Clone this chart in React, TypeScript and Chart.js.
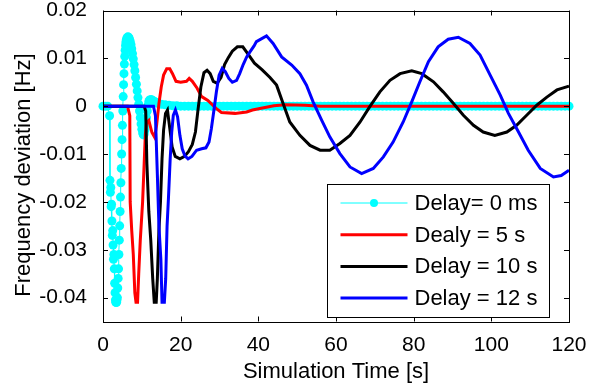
import React, { useEffect, useRef } from "react";
import { Chart, registerables } from "chart.js";

Chart.register(...registerables);

// ---------- data ----------
const xTicks = [0, 20, 40, 60, 80, 100, 120];
const xTickLabels = ["0", "20", "40", "60", "80", "100", "120"];
const yTicks = [-0.04, -0.03, -0.02, -0.01, 0, 0.01, 0.02];
const yTickLabels = ["-0.04", "-0.03", "-0.02", "-0.01", "0", "0.01", "0.02"];

const seriesNames = ["Delay= 0 ms", "Dealy = 5 s", "Delay = 10 s", "Delay = 12 s"];
const seriesColors = ["#00FFFF", "#FF0000", "#000000", "#0000FF"];

const xTitle = "Simulation Time [s]";
const yTitle = "Frequency deviation [Hz]";

// Delay = 0 ms (cyan, markers)
const cyanT = [
  0, 0.6, 1.2, 1.7,
  1.8, 1.9, 2.0, 2.1, 2.2, 2.3, 2.4, 2.5, 2.6, 2.7, 2.8, 2.9, 3.0, 3.1, 3.2, 3.3, 3.4, 3.5, 3.6, 3.7, 3.8, 3.9,
  4.0, 4.1, 4.2, 4.3, 4.4, 4.5, 4.6, 4.7, 4.8, 4.9, 5.0, 5.1, 5.2, 5.3, 5.4, 5.5, 5.6, 5.7, 5.8, 5.9,
  6.0, 6.2, 6.4, 6.6, 6.8, 7.0, 7.2, 7.4, 7.6, 7.8, 8.0, 8.2, 8.4, 8.6, 8.8, 9.0, 9.2, 9.4, 9.6, 9.8,
  10.0, 10.2, 10.4, 10.6, 10.8, 11.0, 11.2, 11.4, 11.6, 11.8, 12.0, 12.4, 12.8, 13.2, 13.6, 14, 15, 16, 17, 18, 19,
  20, 21, 22, 23, 24, 25, 26, 27, 28, 29, 30, 31, 32, 33, 34, 35, 36, 37, 38, 39,
  40, 41, 42, 43, 44, 45, 46, 47, 48, 49, 50, 51, 52, 53, 54, 55, 56, 57, 58, 59,
  60, 61, 62, 63, 64, 65, 66, 67, 68, 69, 70, 71, 72, 73, 74, 75, 76, 77, 78, 79,
  80, 81, 82, 83, 84, 85, 86, 87, 88, 89, 90, 91, 92, 93, 94, 95, 96, 97, 98, 99,
  100, 101, 102, 103, 104, 105, 106, 107, 108, 109, 110, 111, 112, 113, 114, 115, 116, 117, 118, 119, 120,
];
const cyanV = [
  0, 0, 0, -0.002,
  -0.0155, -0.018, -0.017, -0.021, -0.0205, -0.024, -0.027, -0.026, -0.029, -0.032, -0.031, -0.034, -0.037, -0.039, -0.0405, -0.041, -0.041, -0.041, -0.0405, -0.04, -0.038, -0.036,
  -0.034, -0.031, -0.028, -0.025, -0.022, -0.019, -0.016, -0.013, -0.01, -0.007, -0.004, -0.001, 0.002, 0.0045, 0.0068, 0.0088, 0.0104, 0.0117, 0.0127, 0.0134,
  0.0139, 0.0143, 0.0145, 0.0144, 0.0141, 0.0136, 0.0129, 0.012, 0.011, 0.0099, 0.0087, 0.0074, 0.006, 0.0046, 0.0032, 0.0018, 0.0004, -0.001, -0.0024, -0.0037,
  -0.0048, -0.0056, -0.006, -0.0058, -0.005, -0.0038, -0.0024, -0.001, 0.0002, 0.001, 0.0013, 0.0014, 0.0012, 0.001, 0.0008, 0.0006, 0.0004, 0.0003, 0.0002, 0.0001, 0.0001,
  0, 0, 0, 0, 0, 0, 0, 0, 0, 0, 0, 0, 0, 0, 0, 0, 0, 0, 0, 0,
  0, 0, 0, 0, 0, 0, 0, 0, 0, 0, 0, 0, 0, 0, 0, 0, 0, 0, 0, 0,
  0, 0, 0, 0, 0, 0, 0, 0, 0, 0, 0, 0, 0, 0, 0, 0, 0, 0, 0, 0,
  0, 0, 0, 0, 0, 0, 0, 0, 0, 0, 0, 0, 0, 0, 0, 0, 0, 0, 0, 0,
  0, 0, 0, 0, 0, 0, 0, 0, 0, 0, 0, 0, 0, 0, 0, 0, 0, 0, 0, 0, 0,
];

// Dealy = 5 s (red)
const redT = [
  0, 6.3, 6.6, 6.9, 7.0, 7.4, 7.8, 8.2, 8.5, 8.9, 9.2, 9.6, 10.2, 10.6, 10.9, 11.2, 11.8, 12.6, 13.3, 13.8,
  14.4, 15.0, 15.6, 16.4, 17.2, 17.9, 18.8, 20.0, 21.5, 22.2, 23.0, 24.2, 25.4, 27.0, 29.2, 30.5, 34.0, 37.0,
  38.5, 40.4, 44, 47, 52, 56, 120,
];
const redV = [
  0, 0, -0.001, -0.002, -0.02, -0.026, -0.031, -0.039, -0.041, -0.041, -0.035, -0.028, -0.02, -0.012, -0.006, -0.0035, -0.003, -0.0055, -0.0065, -0.004,
  0.0005, 0.004, 0.0065, 0.0078, 0.0078, 0.0068, 0.0052, 0.005, 0.0052, 0.0058, 0.0052, 0.0038, 0.002, 0.0012, -0.0005, -0.0013, -0.0015, -0.0012,
  -0.0008, -0.0005, 0.0001, 0.0003, 0.0002, 0, 0,
];

// Delay = 10 s (black)
const blackT = [
  0, 10.6, 11.0, 11.3, 11.8, 12.3, 12.8, 13.2, 13.7, 14.0, 14.4, 14.8, 15.2, 15.6, 16.1, 16.6, 17.1, 17.8, 18.6, 19.8,
  21.0, 22.0, 23.0, 23.8, 24.5, 25.2, 26.0, 26.8, 27.6, 28.4, 29.4, 30.4, 31.3, 32.3, 33.3, 34.6, 36.0, 37.5, 39.0, 41.0,
  43.0, 44.7, 46.4, 48.1, 50.7, 53.3, 55.9, 58.4, 61.0, 63.6, 66.2, 68.7, 71.3, 73.9, 76.5, 79.5, 82.1, 85.1, 87.6, 90.2,
  92.8, 95.4, 97.9, 100.9, 104.0, 106.5, 109.1, 111.7, 114.3, 116.9, 120,
];
const blackV = [
  0, 0, -0.001, -0.012, -0.022, -0.028, -0.036, -0.041, -0.041, -0.036, -0.026, -0.02, -0.011, -0.005, -0.0015, -0.0008, -0.004, -0.0085, -0.0105, -0.011,
  -0.0105, -0.0095, -0.008, -0.0054, -0.0005, 0.004, 0.007, 0.0075, 0.0068, 0.0052, 0.0048, 0.006, 0.0087, 0.0102, 0.0115, 0.0124, 0.0124, 0.0107, 0.009, 0.0076,
  0.006, 0.0044, 0.0005, -0.0033, -0.0061, -0.0082, -0.0092, -0.0092, -0.0078, -0.0061, -0.0033, -0.0001, 0.003, 0.0054, 0.0068, 0.0074, 0.0068, 0.0051, 0.003, 0.0006,
  -0.0019, -0.004, -0.0054, -0.0061, -0.0054, -0.004, -0.0019, 0.0002, 0.0019, 0.0034, 0.0042,
];

// Delay = 12 s (blue)
const blueT = [
  0, 13.0, 13.5, 14.0, 14.4, 14.9, 15.2, 15.8, 16.15, 16.5, 16.85, 17.3, 17.7, 18.1, 18.65, 19.2, 19.8, 20.4, 21.1, 21.9,
  22.9, 24.1, 25.4, 26.5, 27.3, 27.9, 28.5, 29.2, 29.9, 30.7, 31.5, 32.4, 33.3, 34.4, 35.2, 36.1, 37.0, 37.8, 38.9, 39.5,
  42.1, 43.8, 46.0, 48.6, 50.7, 52.4, 54.1, 56.3, 58.4, 61.0, 63.6, 66.6, 69.6, 72.2, 74.7, 77.3, 79.5, 81.6, 83.8, 86.3,
  88.9, 91.5, 94.5, 97.1, 99.7, 102.3, 104.4, 107.0, 109.5, 112.6, 116.0, 118.0, 120,
];
const blueV = [
  0, 0, -0.002, -0.0144, -0.025, -0.032, -0.041, -0.041, -0.036, -0.025, -0.0193, -0.011, -0.0054, -0.0019, -0.0008, -0.0022, -0.0061, -0.0089, -0.0104, -0.011,
  -0.0105, -0.0092, -0.0089, -0.0087, -0.0075, -0.0047, -0.0012, 0.003, 0.0065, 0.0079, 0.0072, 0.0058, 0.005, 0.0054, 0.0068, 0.0087, 0.0103, 0.0113, 0.0126, 0.0135,
  0.0147, 0.0131, 0.0103, 0.0086, 0.0068, 0.0044, 0.0009, -0.0029, -0.0064, -0.0099, -0.0127, -0.0141, -0.013, -0.0106, -0.0075, -0.0033, 0.0009, 0.0051, 0.0093, 0.0124,
  0.014, 0.0144, 0.0131, 0.0107, 0.0065, 0.0023, -0.0015, -0.0054, -0.0092, -0.013, -0.0148, -0.0145, -0.0134,
];

// ---------- helpers ----------
const FONT = '"Liberation Sans", Arial, Helvetica, sans-serif';
const toXY = (t: number[], v: number[]) => t.map((x, i) => ({ x, y: v[i] }));
const labelFor = (vals: number[], labels: string[], v: number) => {
  const i = vals.findIndex((t) => Math.abs(t - v) < 1e-9);
  return i >= 0 ? labels[i] : "";
};

const framePlugin = {
  id: "matlabFrame",
  afterDraw(chart: any) {
    const { ctx, chartArea: a, scales } = chart;
    const xs = scales.x;
    const ys = scales.y;
    ctx.save();
    ctx.strokeStyle = "#000";
    ctx.lineWidth = 1;
    ctx.strokeRect(Math.round(a.left) + 0.5, Math.round(a.top) + 0.5, Math.round(a.right - a.left), Math.round(a.bottom - a.top));
    const L = 5;
    ctx.beginPath();
    xTicks.forEach((v) => {
      const px = Math.round(xs.getPixelForValue(v)) + 0.5;
      ctx.moveTo(px, a.bottom);
      ctx.lineTo(px, a.bottom - L);
      ctx.moveTo(px, a.top);
      ctx.lineTo(px, a.top + L);
    });
    yTicks.forEach((v) => {
      const py = Math.round(ys.getPixelForValue(v)) + 0.5;
      ctx.moveTo(a.left, py);
      ctx.lineTo(a.left + L, py);
      ctx.moveTo(a.right, py);
      ctx.lineTo(a.right - L, py);
    });
    ctx.stroke();

    // y-axis title (rotated)
    ctx.save();
    ctx.fillStyle = "#000";
    ctx.font = `22px ${FONT}`;
    ctx.textAlign = "center";
    ctx.textBaseline = "middle";
    ctx.translate(24, (a.top + a.bottom) / 2 + 9);
    ctx.rotate(-Math.PI / 2);
    ctx.fillText(yTitle, 0, 0);
    ctx.restore();

    // legend box (bottom-right inside the axes)
    const boxW = 222;
    const boxH = 133;
    const bx = Math.round(a.right - 20 - boxW) + 0.5;
    const by = Math.round(a.bottom - 5 - boxH) + 0.5;
    ctx.fillStyle = "#fff";
    ctx.fillRect(bx, by, boxW, boxH);
    ctx.strokeStyle = "#000";
    ctx.lineWidth = 1;
    ctx.strokeRect(bx, by, boxW, boxH);
    const rowH = 31.7;
    ctx.font = `22px ${FONT}`;
    ctx.textBaseline = "middle";
    ctx.textAlign = "left";
    seriesNames.forEach((name, i) => {
      const cy = by + 18.5 + i * rowH;
      const x0 = bx + 13;
      const x1 = bx + 80;
      ctx.strokeStyle = seriesColors[i];
      ctx.lineWidth = i === 0 ? 1 : 3;
      ctx.beginPath();
      ctx.moveTo(x0, cy);
      ctx.lineTo(x1, cy);
      ctx.stroke();
      if (i === 0) {
        ctx.fillStyle = seriesColors[i];
        ctx.beginPath();
        ctx.arc((x0 + x1) / 2, cy, 4, 0, Math.PI * 2);
        ctx.fill();
      }
      ctx.fillStyle = "#000";
      ctx.fillText(name, bx + 87, cy + 1);
    });
    ctx.restore();
  },
};

export default function App() {
  const ref = useRef<HTMLCanvasElement | null>(null);

  useEffect(() => {
    if (!ref.current) return;
    const chart = new Chart(ref.current, {
      type: "line",
      data: {
        datasets: [
          {
            label: seriesNames[0],
            data: toXY(cyanT, cyanV),
            borderColor: seriesColors[0],
            backgroundColor: seriesColors[0],
            borderWidth: 1,
            pointRadius: 4.5,
            pointBorderWidth: 0,
            pointBackgroundColor: seriesColors[0],
            tension: 0,
            clip: false as any,
            order: 3,
          },
          {
            label: seriesNames[1],
            data: toXY(redT, redV),
            borderColor: seriesColors[1],
            borderWidth: 3,
            pointRadius: 0,
            tension: 0,
            clip: false as any,
            order: 2,
          },
          {
            label: seriesNames[2],
            data: toXY(blackT, blackV),
            borderColor: seriesColors[2],
            borderWidth: 3,
            pointRadius: 0,
            tension: 0,
            clip: false as any,
            order: 1,
          },
          {
            label: seriesNames[3],
            data: toXY(blueT, blueV),
            borderColor: seriesColors[3],
            borderWidth: 3,
            pointRadius: 0,
            tension: 0,
            clip: false as any,
            order: 0,
          },
        ],
      },
      options: {
        animation: false,
        responsive: false,
        devicePixelRatio: 1,
        layout: { padding: { left: 0, right: 26, top: 10.5, bottom: 0 } },
        plugins: {
          legend: { display: false },
          tooltip: { enabled: false },
        },
        scales: {
          x: {
            type: "linear",
            min: 0,
            max: 120,
            grid: { display: false },
            border: { display: false },
            afterBuildTicks: (s: any) => {
              s.ticks = xTicks.map((value) => ({ value }));
            },
            afterFit: (s: any) => {
              s.height = 63.5;
              s.paddingLeft = 0;
              s.paddingRight = 0;
            },
            ticks: {
              color: "#000",
              padding: 3,
              maxRotation: 0,
              font: { family: FONT, size: 21 },
              callback: (v: any) => labelFor(xTicks, xTickLabels, Number(v)),
            },
            title: {
              display: true,
              text: xTitle,
              color: "#000",
              font: { family: FONT, size: 22 },
              padding: { top: 0, bottom: 0 },
            },
          },
          y: {
            type: "linear",
            min: -0.045,
            max: 0.02,
            grid: { display: false },
            border: { display: false },
            afterBuildTicks: (s: any) => {
              s.ticks = yTicks.map((value) => ({ value }));
            },
            afterFit: (s: any) => {
              s.width = 103;
              s.paddingTop = 0;
              s.paddingBottom = 0;
            },
            ticks: {
              color: "#000",
              padding: 8,
              font: { family: FONT, size: 21 },
              callback: (v: any) => labelFor(yTicks, yTickLabels, Number(v)),
            },
            title: { display: false },
          },
        },
      },
      plugins: [framePlugin],
    } as any);
    return () => chart.destroy();
  }, []);

  return (
    <div style={{ position: "absolute", left: 0, top: 0, width: 595, height: 385, background: "#fff" }}>
      <canvas ref={ref} width={595} height={385} style={{ display: "block" }} />
    </div>
  );
}
